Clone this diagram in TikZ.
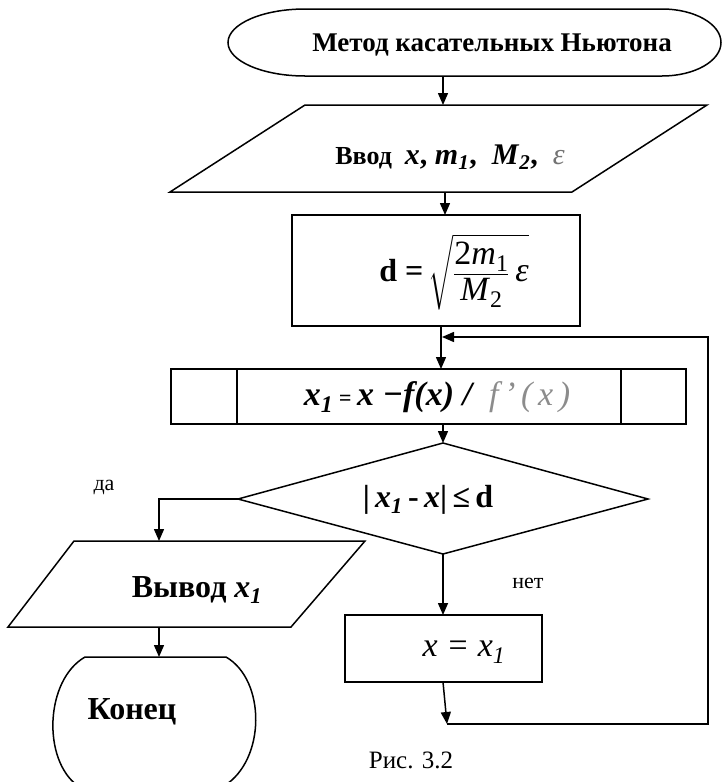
\documentclass[tikz,border=0pt]{standalone}
\usepackage{amsmath}
\usepackage{fontspec}
\setmainfont{Liberation Serif}
\usetikzlibrary{arrows.meta}
\begin{document}
\begin{tikzpicture}[x=1pt,y=-1pt,line width=1.5pt,
  >={Triangle[length=12pt,width=10pt]},
  lbl/.style={inner sep=0pt,anchor=center},
  shapeline/.style={draw=black,line width=1.5pt,line join=miter}]
\useasboundingbox (0,0) rectangle (722,782);

% ---- start terminator
\draw[shapeline] (305,76) .. controls (262.5,76) and (228,61) .. (228,42.5)
  .. controls (228,24) and (262.5,9) .. (305,9) -- (662,9)
  .. controls (694.6,9) and (721,24) .. (721,42.5)
  .. controls (721,61) and (694.6,76) .. (662,76) -- cycle;
\node[lbl,font=\fontsize{27}{30}\selectfont\bfseries] (tstart) at (492,45) {Метод касательных Ньютона};

% ---- input parallelogram
\draw[shapeline] (305,105) -- (707,105) -- (572,192) -- (170,192) -- cycle;
\node[lbl,font=\fontsize{26}{30}\selectfont\bfseries] (tin) at (450,157)
  {Ввод\ \ {\fontsize{30}{32}\selectfont\textit{x}, \textit{m}\textsubscript{\textit{1}}, \ \textit{M}\textsubscript{\textit{2}}, \ {\mdseries\itshape\color{black!55}ε}}};

% ---- d box
\draw[shapeline] (292,215) rectangle (580,326);
\node[lbl] (td) at (454,272)
  {{\fontsize{32}{36}\selectfont\textbf{d =}}\ \ {\fontsize{34}{38}\selectfont$\displaystyle\sqrt{\frac{\mbox{2\textit{m}\textsubscript{1}}}{\mbox{\textit{M}\textsubscript{2}}}\mbox{\,\textit{ε}}}$}};

% ---- predefined process
\draw[shapeline] (171,369) rectangle (686,424);
\draw[shapeline] (237,369) -- (237,424);
\draw[shapeline] (621,369) -- (621,424);
\node[lbl,font=\fontsize{34}{38}\selectfont] (tpp) at (437,397)
  {{\bfseries\itshape x\textsubscript{1}\,{\fontsize{22}{24}\selectfont=}\,x −f(x) /}\ \ {\itshape\color{black!45}f\,'\,(\,x\,)}};

% ---- decision
\draw[shapeline] (443,443) -- (648,499) -- (443,554) -- (238,499) -- cycle;
\node[lbl,font=\fontsize{32}{36}\selectfont\bfseries] (tdec) at (428,500)
  {|\,\textit{x}\textsubscript{\textit{1}}\,-\,\textit{x}|\,≤\,d};
\node[lbl,font=\fontsize{22}{24}\selectfont] (tda) at (104,487) {да};
\node[lbl,font=\fontsize{22}{24}\selectfont] (tnet) at (528,583) {нет};

% ---- output parallelogram
\draw[shapeline] (74,541) -- (365,541) -- (291,627) -- (8,627) -- cycle;
\node[lbl,font=\fontsize{32}{36}\selectfont\bfseries] (tout) at (197,590)
  {Вывод \textit{x}\textsubscript{\textit{1}}};

% ---- end terminator
\draw[shapeline] (78,786) .. controls (42,760) and (45,680) .. (85,657) -- (226,657)
  .. controls (266,680) and (266,760) .. (224,786);
\node[lbl,font=\fontsize{32}{36}\selectfont\bfseries] (tend) at (132,712) {Конец};

% ---- assignment box
\draw[shapeline] (345,615) rectangle (542,682);
\node[lbl,font=\fontsize{34}{38}\selectfont\itshape] (tassign) at (464,652)
  {x = x\textsubscript{1}};

% ---- caption
\node[lbl,font=\fontsize{25}{28}\selectfont] (tcap) at (411,760) {Рис. 3.2};

% ---- connector points
\coordinate (a1) at (443,76);   \coordinate (a2) at (443,105);
\coordinate (b1) at (445,192);  \coordinate (b2) at (445,215);
\coordinate (c1) at (441,326);  \coordinate (c2) at (441,369);
\coordinate (d1) at (443,424);  \coordinate (d2) at (443,443);
\coordinate (e1) at (238,499);  \coordinate (e2) at (159,499);  \coordinate (e3) at (159,541);
\coordinate (f1) at (159,627);  \coordinate (f2) at (159,657);
\coordinate (g1) at (443,554);  \coordinate (g2) at (443,615);
\coordinate (h1) at (443,682);  \coordinate (h2) at (447,724);
\coordinate (k1) at (708,724);  \coordinate (k2) at (708,337);  \coordinate (k3) at (442,337);

\draw[->] (a1) -- (a2);
\draw[->] (b1) -- (b2);
\draw[->] (c1) -- (c2);
\draw[->] (d1) -- (d2);
\draw[->] (e1) -- (e2) -- (e3);
\draw[->] (f1) -- (f2);
\draw[->] (g1) -- (g2);
\draw[->] (h1) -- (h2);
\draw[->] (h2) -- (k1) -- (k2) -- (k3);
\end{tikzpicture}
\end{document}
